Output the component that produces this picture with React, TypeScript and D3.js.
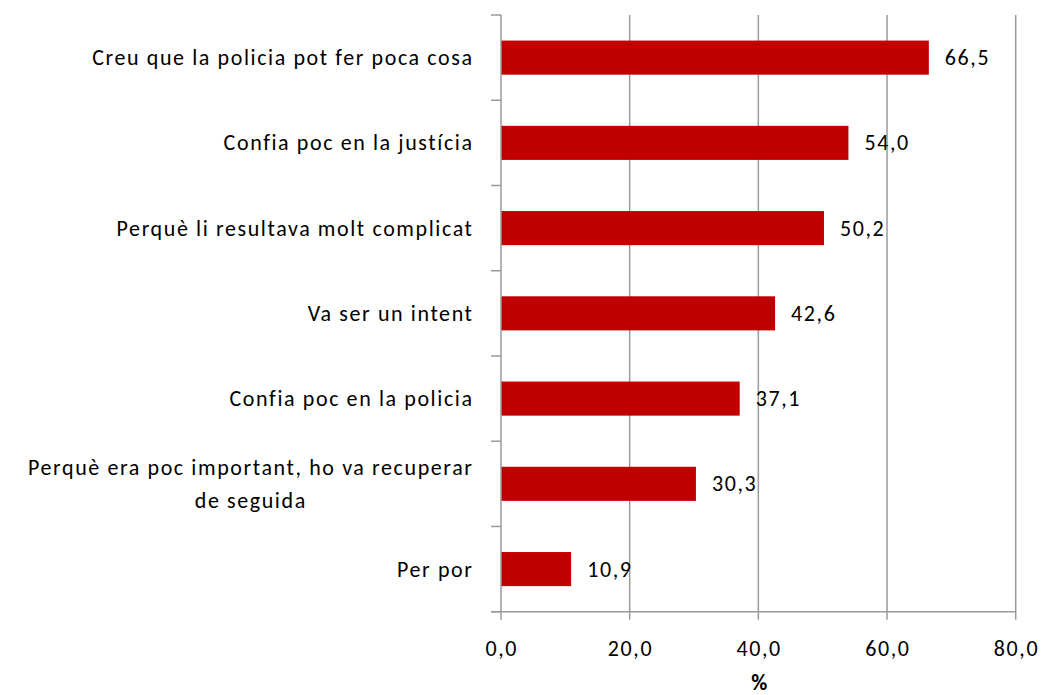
import React, { useEffect, useRef } from "react";
import * as d3 from "d3";

const categories = [
  "Creu que la policia pot fer poca cosa",
  "Confia poc en la justícia",
  "Perquè li resultava molt complicat",
  "Va ser un intent",
  "Confia poc en la policia",
  "Perquè era poc important, ho va recuperar\nde seguida",
  "Per por",
];
const values = [66.5, 54.0, 50.2, 42.6, 37.1, 30.3, 10.9];
const xTicks = [0, 20, 40, 60, 80];
const axisTitle = "%";

const W = 1042;
const H = 695;
const FONT = "Carlito, Calibri, Lato, sans-serif";
const FS = 22;
const LS = 1.6;

export default function App() {
  const ref = useRef<SVGSVGElement>(null);
  useEffect(() => {
    const svg = d3.select(ref.current);
    svg.selectAll("*").remove();
    const left = 501, right = 1015.7, top = 15, bottom = 611.7;
    const x = d3.scaleLinear().domain([0, 80]).range([left, right]);
    const y = d3.scaleBand<string>().domain(categories).range([top, bottom]).paddingInner(0.6).paddingOuter(0.3);
    const step = (bottom - top) / categories.length;
    const grey = "#9a9a9a";

    // gridlines
    svg.append("g").selectAll("line").data(xTicks.slice(1)).join("line")
      .attr("x1", d => x(d)).attr("x2", d => x(d)).attr("y1", top).attr("y2", bottom)
      .attr("stroke", grey).attr("stroke-width", 1.5);

    // bars
    svg.append("g").selectAll("rect").data(values).join("rect")
      .attr("x", x(0)).attr("y", (d, i) => y(categories[i])!)
      .attr("width", d => x(d) - x(0)).attr("height", y.bandwidth())
      .attr("fill", "#C00000");

    // y axis
    svg.append("line").attr("x1", left).attr("x2", left).attr("y1", top).attr("y2", bottom)
      .attr("stroke", grey).attr("stroke-width", 1.5);
    svg.append("g").selectAll("line").data(d3.range(categories.length + 1)).join("line")
      .attr("x1", left - 10).attr("x2", left).attr("y1", i => top + i * step).attr("y2", i => top + i * step)
      .attr("stroke", grey).attr("stroke-width", 1.5);

    // x axis
    svg.append("line").attr("x1", left - 10).attr("x2", right).attr("y1", bottom).attr("y2", bottom)
      .attr("stroke", grey).attr("stroke-width", 1.5);
    svg.append("g").selectAll("line").data(xTicks).join("line")
      .attr("x1", d => x(d)).attr("x2", d => x(d)).attr("y1", bottom).attr("y2", bottom + 8)
      .attr("stroke", grey).attr("stroke-width", 1.5);
    const fmt = (v: number) => v.toFixed(1).replace(".", ",");
    svg.append("g").selectAll("text").data(xTicks).join("text")
      .attr("x", d => x(d) + LS / 2).attr("y", 648).attr("text-anchor", "middle").attr("dominant-baseline", "central")
      .attr("font-family", FONT).attr("font-size", FS).attr("letter-spacing", LS).attr("fill", "#000").text(d => fmt(d));

    svg.append("text").attr("x", (left + right) / 2 + 1).attr("y", 682).attr("text-anchor", "middle")
      .attr("dominant-baseline", "central").attr("font-family", FONT).attr("font-size", FS)
      .attr("font-weight", "bold").text(axisTitle);

    // value labels
    svg.append("g").selectAll("text").data(values).join("text")
      .attr("x", d => x(d) + 16).attr("y", (d, i) => y(categories[i])! + y.bandwidth() / 2)
      .attr("dominant-baseline", "central").attr("font-family", FONT).attr("font-size", FS)
      .attr("letter-spacing", LS).text(d => fmt(d));

    // category labels
    const labelRight = 472 + LS;
    categories.forEach((c, i) => {
      const lines = c.split("\n");
      const cy = y(c)! + y.bandwidth() / 2;
      const lh = 33;
      const g = svg.append("g");
      const texts = lines.map((ln, j) =>
        g.append("text").attr("y", cy + (j - (lines.length - 1) / 2) * lh)
          .attr("dominant-baseline", "central").attr("font-family", FONT).attr("font-size", FS)
          .attr("letter-spacing", LS).attr("text-anchor", "middle").text(ln)
      );
      const widths = texts.map(t => (t.node() as SVGTextElement).getComputedTextLength());
      const maxW = Math.max(...widths);
      texts.forEach(t => t.attr("x", labelRight - maxW / 2));
    });
  }, []);
  return (
    <svg ref={ref} width={W} height={H} style={{ position: "absolute", left: 0, top: 0, background: "#fff" }} />
  );
}
